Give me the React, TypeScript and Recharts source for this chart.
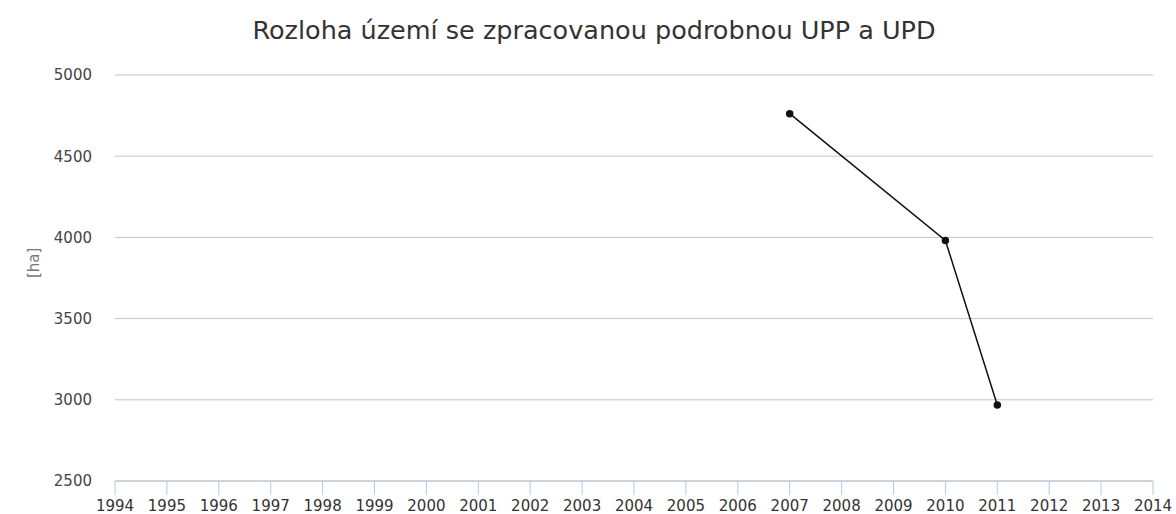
import { LineChart, Line, XAxis, YAxis, CartesianGrid } from 'recharts';

// roky a rozloha [ha]
const years = [2007, 2010, 2011];
const area = [4762, 3981, 2968];

const xTicks = Array.from({ length: 21 }, (_, i) => 1994 + i);
const yTicks = [2500, 3000, 3500, 4000, 4500, 5000];

const data = years.map((year, i) => ({ year, area: area[i] }));

const FONT = '"DejaVu Sans", Verdana, sans-serif';

export default function App() {
  return (
    <div style={{ position: 'absolute', left: 0, top: 0, width: 1176, height: 514, background: '#fff' }}>
      <div
        style={{
          position: 'absolute',
          left: 6,
          top: 15,
          width: 1176,
          textAlign: 'center',
          fontFamily: FONT,
          fontSize: 25.5,
          lineHeight: '30px',
          color: '#333',
        }}
      >
        Rozloha území se zpracovanou podrobnou UPP a UPD
      </div>
      <LineChart width={1176} height={514} data={data} margin={{ top: 75, right: 23, left: 0, bottom: 8 }}>
        <CartesianGrid horizontal vertical={false} stroke="#c4c4c4" />
        <XAxis
          dataKey="year"
          type="number"
          domain={[1994, 2014]}
          ticks={xTicks}
          interval={0}
          height={25}
          stroke="#b7c9dc"
          tickSize={14}
          tickMargin={5}
          tick={{ fill: '#333', fontSize: 15, fontFamily: FONT }}
        />
        <YAxis
          type="number"
          domain={[2500, 5000]}
          ticks={yTicks}
          width={115}
          axisLine={false}
          tickLine={false}
          tickSize={0}
          tickMargin={23}
          tick={{ fill: '#444', fontSize: 15, fontFamily: FONT }}
          label={{ value: '[ha]', angle: -90, position: 'insideLeft', offset: 34, fill: '#777', fontSize: 15, fontFamily: FONT }}
        />
        <Line
          dataKey="area"
          type="linear"
          stroke="#111"
          strokeWidth={1.5}
          dot={{ r: 3, fill: '#111', stroke: '#111' }}
          isAnimationActive={false}
        />
      </LineChart>
    </div>
  );
}
